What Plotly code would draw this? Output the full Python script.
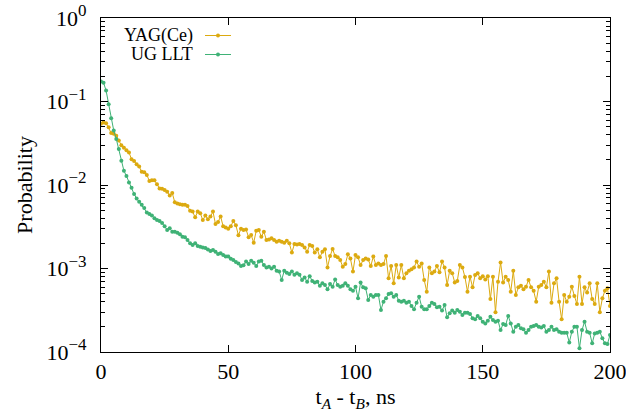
import plotly.graph_objects as go

# ---------------- data ----------------
t_ns = list(range(0, 201))

yag_ce = [
    0.054, 0.056, 0.055, 0.049, 0.042, 0.041, 0.039, 0.034, 0.030, 0.028,
    0.026, 0.0245, 0.0204, 0.0194, 0.0177, 0.0166, 0.0144, 0.0142, 0.0132, 0.0112,
    0.0114, 0.0114, 0.0102, 0.0091, 0.0090, 0.0087,
    0.0083, 0.0075, 0.0080, 0.0062, 0.0060, 0.0059, 0.0058, 0.0058, 0.0056, 0.0049,
    0.0048, 0.0041, 0.0048, 0.0046, 0.0038, 0.0043, 0.0039, 0.0042, 0.0048, 0.0034,
    0.0036, 0.0042, 0.0032, 0.0031, 0.0030, 0.0032, 0.0037, 0.0033, 0.0025, 0.0030,
    0.0029,
    0.00294, 0.00236, 0.00252, 0.00204, 0.00284, 0.00289, 0.0024, 0.00276, 0.00219, 0.00223,
    0.0023, 0.00219, 0.00209, 0.00215, 0.00209, 0.00204, 0.00215, 0.002, 0.00155, 0.00196,
    0.00194, 0.00196, 0.00191, 0.00179,
    0.00159, 0.00191, 0.00186, 0.00155, 0.0017, 0.00136, 0.00159, 0.0017, 0.00103, 0.00141,
    0.00171, 0.00141, 0.00136, 0.00126, 0.00105, 0.00113, 0.00148, 0.00132, 0.00092, 0.00145,
    0.00136, 0.0011, 0.00126, 0.00132, 0.00128, 0.00107, 0.00139, 0.0011, 0.00115, 0.0011,
    0.00113, 0.00141, 0.000762, 0.00107, 0.000664, 0.0011, 0.00078, 0.0011, 0.000762, 0.00088,
    0.00094, 0.00098, 0.00103, 0.00121, 0.00105, 0.00115, 0.000728, 0.000528, 0.00103, 0.00088,
    0.00092, 0.00107, 0.0009, 0.00121, 0.00103, 0.000634, 0.00094, 0.00088, 0.00068, 0.00071,
    0.0011, 0.00103, 0.00079, 0.000528, 0.000798, 0.000595, 0.000836, 0.00088, 0.000762, 0.00081,
    0.00074, 0.00081, 0.00043, 0.000798, 0.0003, 0.000695, 0.00118, 0.00068, 0.000798, 0.000728,
    0.000528, 0.00094, 0.000482, 0.000595, 0.00062, 0.000563, 0.000606, 0.000728, 0.000595, 0.00054,
    0.000401, 0.000606, 0.000634, 0.000695, 0.000595, 0.00092, 0.00039, 0.000664, 0.000762, 0.000401,
    0.000246, 0.000482, 0.000401, 0.00046, 0.000606, 0.00047, 0.000376, 0.000798, 0.000376, 0.000595,
    0.000515, 0.000664, 0.00043, 0.000376, 0.000664, 0.0003, 0.00044, 0.00054, 0.000579, 0.000356,
]

ug_llt = [
    0.173, 0.168, 0.135, 0.093, 0.063, 0.045, 0.0356, 0.027, 0.0195, 0.0148,
    0.0128, 0.0107, 0.0093, 0.0078, 0.0069, 0.0063, 0.0058, 0.0053, 0.0047, 0.0045,
    0.0043, 0.0040, 0.0038, 0.0037, 0.0035,
    0.0032, 0.00289, 0.00303, 0.00276, 0.00276, 0.00268, 0.00257, 0.0024, 0.00236, 0.00219,
    0.002, 0.00191, 0.002, 0.00186, 0.00182, 0.00179, 0.00176, 0.00169, 0.00162, 0.00167,
    0.00159, 0.00149, 0.00152, 0.00145, 0.00139, 0.00139, 0.00131, 0.00126, 0.0012, 0.00115,
    0.00107, 0.00109,
    0.00121, 0.00113, 0.00124, 0.00117, 0.00107, 0.00121, 0.00124, 0.0011, 0.00103, 0.00105,
    0.001, 0.00105, 0.00094, 0.00092, 0.00073, 0.00094, 0.00089, 0.00086, 0.00092, 0.00084,
    0.00088, 0.00084, 0.00073, 0.00078,
    0.000695, 0.00081, 0.00071, 0.00068, 0.000695, 0.00062, 0.000664, 0.000634, 0.000563, 0.00065,
    0.000606, 0.00074, 0.000634, 0.000606, 0.00062, 0.000664, 0.00062, 0.000563, 0.00054, 0.000606,
    0.00044, 0.00068, 0.000595, 0.000579, 0.00042, 0.000482, 0.00046, 0.000482, 0.000482, 0.000319,
    0.000401, 0.00044, 0.000495, 0.000504, 0.00046, 0.000482, 0.000412, 0.000401, 0.000412, 0.00039,
    0.000401, 0.000356, 0.000325, 0.00039, 0.00046, 0.000349, 0.000325, 0.000325, 0.000356, 0.00039,
    0.000376, 0.000343, 0.000349, 0.000313, 0.000366, 0.00026, 0.000291, 0.000313, 0.000296, 0.000319,
    0.000304, 0.000277, 0.000296, 0.000296, 0.000286, 0.000253, 0.000246, 0.00027, 0.000253, 0.000231,
    0.00022, 0.000237, 0.000265, 0.000242, 0.000231, 0.000237, 0.000183, 0.000216, 0.00021, 0.00027,
    0.00022, 0.000175, 0.000201, 0.00021, 0.000192, 0.000187, 0.00017, 0.000183, 0.000201, 0.000205,
    0.00021, 0.000201, 0.000197, 0.000205, 0.000175, 0.000183, 0.000201, 0.000183, 0.000187, 0.000175,
    0.00017, 0.00017, 0.00017, 0.00013, 0.000175, 0.000201, 0.000201, 0.000111, 0.000183, 0.000231,
    0.000175, 0.00017, 0.000127, 0.000167, 0.00017, 0.000175, 0.000146, 0.000127, 0.000125, 0.00016,
]

series_names = ["YAG(Ce)", "UG LLT"]
series_colors = ["#dcaa10", "#3fb276"]

x_tick_vals = [0, 50, 100, 150, 200]
x_tick_text = ["0", "50", "100", "150", "200"]
y_tick_vals = [1e-4, 1e-3, 1e-2, 1e-1, 1]
y_tick_exps = ["−4", "−3", "−2", "−1", "0"]
y_tick_text = ["10<sup><span style='font-size:17px'>%s</span></sup>" % e for e in y_tick_exps]
y_minor_vals = [m * d for d in (1e-4, 1e-3, 1e-2, 1e-1) for m in range(2, 10)]

FONT = '"Liberation Serif", "Times New Roman", Times, "DejaVu Serif", serif'

W, H = 626, 412
L, T, R, B = 101, 18, 16, 60
pw, ph = W - L - R, H - T - B


def px2paper_x(px):
    return (px - L) / pw


def px2paper_y(py):
    return (H - B - py) / ph


fig = go.Figure()
for name, ys, col in zip(series_names, [yag_ce, ug_llt], series_colors):
    fig.add_trace(go.Scatter(
        x=t_ns, y=ys, name=name, mode="lines+markers",
        line=dict(color=col, width=1),
        marker=dict(color=col, size=4, line=dict(width=0)),
        showlegend=False, cliponaxis=True,
    ))

key_rows = [35.5, 54.5]
for name, col, ry in zip(series_names, series_colors, key_rows):
    fig.add_annotation(
        x=px2paper_x(195), y=px2paper_y(ry), xref="paper", yref="paper",
        text=name, showarrow=False, xanchor="right", yanchor="middle",
        font=dict(family=FONT, size=18, color="black"),
    )
    fig.add_shape(type="line", xref="paper", yref="paper",
                  x0=px2paper_x(205), x1=px2paper_x(231),
                  y0=px2paper_y(ry), y1=px2paper_y(ry),
                  line=dict(color=col, width=1))
    fig.add_shape(type="circle", xref="paper", yref="paper",
                  x0=px2paper_x(216), x1=px2paper_x(220),
                  y0=px2paper_y(ry + 2), y1=px2paper_y(ry - 2),
                  fillcolor=col, line=dict(color=col, width=0))

fig.update_layout(
    width=W, height=H,
    margin=dict(l=L, r=R, t=T, b=B, autoexpand=False),
    paper_bgcolor="white", plot_bgcolor="white",
    font=dict(family=FONT, size=22, color="black"),
    showlegend=False,
)
fig.update_xaxes(
    range=[0, 200], tickmode="array", tickvals=x_tick_vals, ticktext=x_tick_text,
    ticks="inside", ticklen=7, tickwidth=1, tickcolor="black",
    showline=True, linecolor="black", linewidth=1, mirror="ticks",
    showgrid=False, zeroline=False, automargin=False, ticklabeloverflow="allow",
    title=dict(text="t<sub><i>A</i></sub> - t<sub><i>B</i></sub>, ns",
               font=dict(family=FONT, size=22), standoff=6),
    tickfont=dict(family=FONT, size=22),
)
fig.update_yaxes(
    type="log", range=[-4, 0], tickmode="array", tickvals=y_tick_vals, ticktext=y_tick_text,
    ticks="inside", ticklen=7, tickwidth=1, tickcolor="black",
    minor=dict(tickmode="array", tickvals=y_minor_vals, ticks="inside",
               ticklen=4, tickwidth=1, tickcolor="black", showgrid=False),
    showline=True, linecolor="black", linewidth=1, mirror="ticks",
    showgrid=False, zeroline=False, automargin=False, ticklabeloverflow="allow",
    ticklabelstandoff=9,
    title=dict(text="Probability", font=dict(family=FONT, size=22), standoff=7),
    tickfont=dict(family=FONT, size=22),
)

fig.write_html(
    "out.html",
    config={"displayModeBar": False},
    post_script="document.body.style.margin='0px';document.body.style.overflow='hidden';",
)
